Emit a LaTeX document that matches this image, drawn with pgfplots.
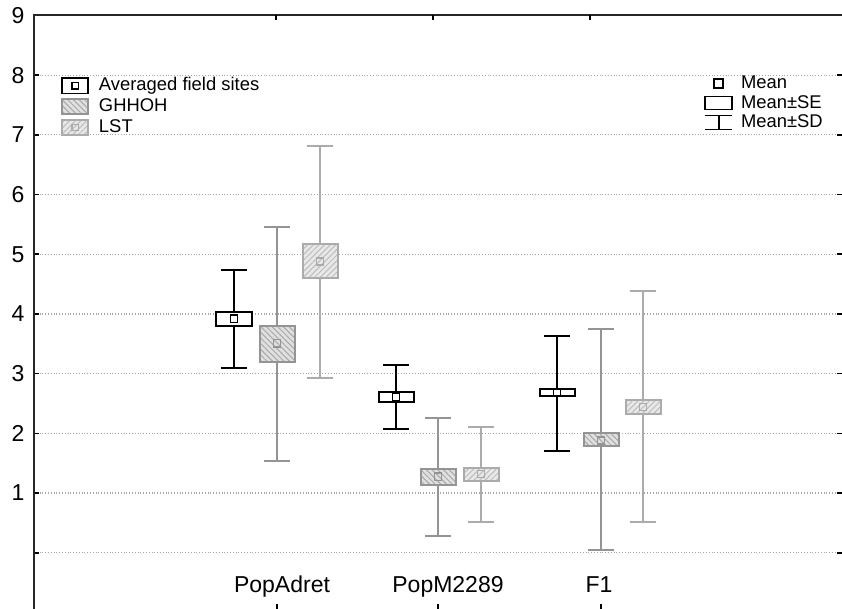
\documentclass[border=0pt]{standalone}
\usepackage{fontspec}
\setmainfont{Liberation Sans}
\usepackage{pgfplots}
\pgfplotsset{compat=1.18}
\usepgfplotslibrary{statistics}
\usetikzlibrary{patterns.meta}

\definecolor{ghedge}{gray}{0.58}
\definecolor{ghfill}{gray}{0.88}
\definecolor{ghhatch}{gray}{0.66}
\definecolor{lsedge}{gray}{0.67}
\definecolor{lsfill}{gray}{0.91}
\definecolor{lshatch}{gray}{0.74}

\tikzset{
  av/.style={color=black},
  gh/.style={color=ghedge},
  ls/.style={color=lsedge},
  avbox/.style={draw=black, fill=white},
  ghbox/.style={draw=ghedge, fill=ghfill,
    postaction={pattern={Lines[angle=-45,distance=2pt,line width=0.5pt]}, pattern color=ghhatch}},
  lsbox/.style={draw=lsedge, fill=lsfill,
    postaction={pattern={Lines[angle=45,distance=2pt,line width=0.5pt]}, pattern color=lshatch}},
}

% box: style, draw position, -SD, -SE, mean, +SE, +SD
\newcommand{\meanbox}[7]{%
  \addplot[#1, line width=1pt, forget plot,
    boxplot prepared={draw direction=y, draw position=#2, lower whisker=#3, lower quartile=#4,
      median=#5, upper quartile=#6, upper whisker=#7,
      box extend=35, whisker extend=26},
    boxplot/every box/.style={#1box},
    boxplot/every median/.style={draw=none}] coordinates {};}

\begin{document}
\begin{tikzpicture}
\pgfplotsset{every axis/.append style={
  scale only axis, width=404pt, height=296.75pt,
  xmin=34, xmax=842, ymin=-0.943, ymax=9, clip=false}}
\begin{axis}[
  axis line style={draw=none},
  ytick={0,...,9}, yticklabels={,1,2,3,4,5,6,7,8,9},
  xtick={277,438,601}, xticklabels={}, xtick pos=left,
  tick align=inside, major tick length=2.5pt,
  tick style={draw=black, line width=0.8pt},
  ymajorgrids, grid style={densely dotted, gray!70, line width=0.6pt},
  yticklabel style={font=\fontsize{11.5}{13}\selectfont, xshift=-1.2pt},
  /pgf/number format/assume math mode=true,
  legend style={at={(axis cs:61,7.97)}, anchor=north west, draw=none, fill=none,
    inner sep=0pt, row sep=2pt, column sep=5pt,
    font=\fontsize{9.2}{11}\selectfont,
    nodes={inner sep=0pt, text height=6.5pt, text depth=1.5pt}},
  legend cell align=left,
]
\addlegendimage{legend image code/.code={
  \draw[black, line width=0.8pt, fill=white] (0pt,-3.8pt) rectangle (13pt,3.8pt);
  \draw[black, line width=0.6pt] (4.9pt,-1.6pt) rectangle (8.1pt,1.6pt);}}
\addlegendentry{Averaged field sites}
\addlegendimage{legend image code/.code={
  \draw[ghbox, line width=0.8pt] (0pt,-3.8pt) rectangle (13pt,3.8pt);}}
\addlegendentry{GHHOH}
\addlegendimage{legend image code/.code={
  \draw[lsbox, line width=0.8pt] (0pt,-3.8pt) rectangle (13pt,3.8pt);
  \draw[lsedge, line width=0.6pt] (4.9pt,-1.6pt) rectangle (8.1pt,1.6pt);}}
\addlegendentry{LST}

% Averaged field sites
\meanbox{av}{234}{3.10}{3.80}{3.92}{4.04}{4.73}
\meanbox{av}{396}{2.08}{2.53}{2.61}{2.70}{3.15}
\meanbox{av}{557}{1.71}{2.62}{2.68}{2.74}{3.63}
% GHHOH
\meanbox{gh}{277}{1.53}{3.20}{3.51}{3.80}{5.46}
\meanbox{gh}{438}{0.28}{1.13}{1.27}{1.40}{2.25}
\meanbox{gh}{601}{0.04}{1.78}{1.88}{2.00}{3.75}
% LST
\meanbox{ls}{320}{2.93}{4.60}{4.88}{5.18}{6.82}
\meanbox{ls}{481}{0.52}{1.20}{1.32}{1.42}{2.10}
\meanbox{ls}{643}{0.52}{2.33}{2.44}{2.56}{4.39}

% means
\addplot[only marks, mark=square, mark size=1.8pt, black, mark options={line width=0.8pt}, forget plot]
  coordinates {(234,3.92) (396,2.61) (557,2.68)};
\addplot[only marks, mark=square, mark size=1.8pt, ghedge, mark options={line width=0.8pt}, forget plot]
  coordinates {(277,3.51) (438,1.27) (601,1.88)};
\addplot[only marks, mark=square, mark size=1.8pt, lsedge, mark options={line width=0.8pt}, forget plot]
  coordinates {(320,4.88) (481,1.32) (643,2.44)};

\draw[line width=1pt, black!85] (rel axis cs:0,0) -- (rel axis cs:0,1) -- (rel axis cs:1,1);
\draw[line width=0.8pt, black] (axis cs:276,9) -- ([yshift=-2.5pt]axis cs:276,9);
\draw[line width=0.8pt, black] (axis cs:433,9) -- ([yshift=-2.5pt]axis cs:433,9);
\draw[line width=0.8pt, black] (axis cs:590,9) -- ([yshift=-2.5pt]axis cs:590,9);
\node[font=\fontsize{11.5}{13}\selectfont, anchor=base] at (axis cs:282,-0.66) {PopAdret};
\node[font=\fontsize{11.5}{13}\selectfont, anchor=base] at (axis cs:448,-0.66) {PopM2289};
\node[font=\fontsize{11.5}{13}\selectfont, anchor=base] at (axis cs:599,-0.66) {F1};
\coordinate (bl) at (rel axis cs:0,0);
\coordinate (tr) at (rel axis cs:1,1);
\end{axis}

\begin{axis}[hide axis,
  legend style={at={(axis cs:704,8.00)}, anchor=north west, draw=none, fill=none,
    inner sep=0pt, row sep=1.75pt, column sep=4pt,
    font=\fontsize{9.2}{11}\selectfont,
    nodes={inner sep=0pt, text height=6.5pt, text depth=1.5pt}},
  legend cell align=left]
\addplot[draw=none, forget plot] coordinates {(34,0) (842,9)};
\addlegendimage{legend image code/.code={
  \draw[black, line width=0.8pt] (4.5pt,-2.2pt) rectangle (9pt,2.2pt);
  \draw[draw=none] (0pt,0pt) -- (13.5pt,0pt);}}
\addlegendentry{Mean}
\addlegendimage{legend image code/.code={
  \draw[black, line width=0.8pt] (0pt,-3.3pt) rectangle (13.5pt,3.3pt);}}
\addlegendentry{Mean±SE}
\addlegendimage{legend image code/.code={
  \draw[black, line width=0.8pt] (0pt,3.5pt) -- (13.5pt,3.5pt)
    (6.75pt,3.5pt) -- (6.75pt,-3.5pt) (0pt,-3.5pt) -- (13.5pt,-3.5pt);}}
\addlegendentry{Mean±SD}
\end{axis}
\pgfresetboundingbox
\path ([xshift=-17pt]bl) rectangle ([yshift=7.75pt]tr);
\end{tikzpicture}
\end{document}
